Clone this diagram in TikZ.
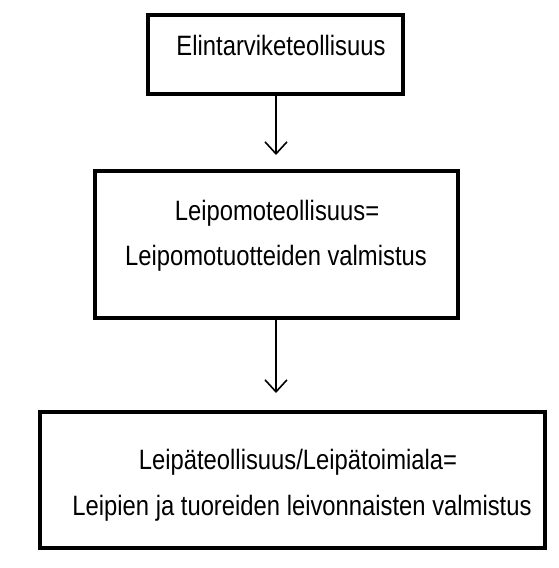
\documentclass[tikz,border=0pt]{standalone}
\usepackage{fontspec}
\setmainfont{Liberation Sans}[FakeStretch=0.85]
\usetikzlibrary{arrows.meta}

\begin{document}
\begin{tikzpicture}[x=1pt, y=-1pt, >={Straight Barb[length=12pt, width=22pt]},
    box/.style={draw, line width=4pt, minimum width=#1},
    txt/.style={font=\fontsize{28}{33}\selectfont, inner sep=0pt},
    link/.style={->, line width=1.6pt}]

    \useasboundingbox (0,0) rectangle (559,568);

    % the three boxes
    \node[box=255pt, minimum height=79pt] (food) at (275.5,54.5) {};
    \node[box=363pt, minimum height=147pt] (bakery) at (276.5,244.5) {};
    \node[box=505pt, minimum height=136pt] (bread) at (292.5,480) {};

    % texts
    \node[txt] (foodA) at (281,45) {Elintarviketeollisuus};
    \node[txt] (bakeryA) at (277,213) {Leipomoteollisuus=};
    \node[txt] (bakeryB) at (276,258) {Leipomotuotteiden valmistus};
    \node[txt] (breadA) at (298,462) {Leipäteollisuus/Leipätoimiala=};
    \node[txt] (breadB) at (302,508) {Leipien ja tuoreiden leivonnaisten valmistus};

    % arrows
    \coordinate (tipA) at (276,155);
    \coordinate (tipB) at (276,393);
    \draw[link] (food.south -| tipA) -- (tipA);
    \draw[link] (bakery.south -| tipB) -- (tipB);

\end{tikzpicture}
\end{document}
